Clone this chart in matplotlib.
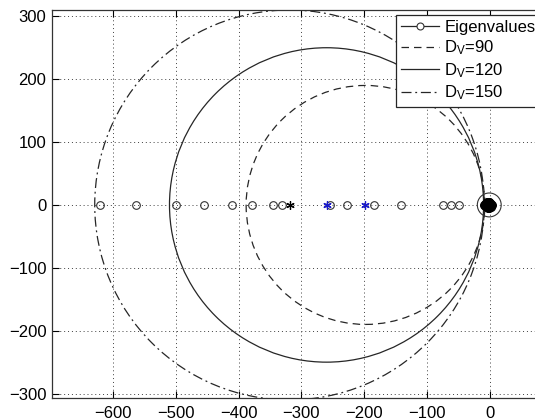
import numpy as np
import matplotlib
matplotlib.use("Agg")
import matplotlib.pyplot as plt
from matplotlib.patches import Circle
from matplotlib.lines import Line2D

plt.rcParams['font.family'] = ['Liberation Sans', 'DejaVu Sans']
plt.rcParams['mathtext.fontset'] = 'custom'
plt.rcParams['mathtext.rm'] = 'Liberation Sans'
plt.rcParams['mathtext.it'] = 'Liberation Sans'

eig_re = [-621, -563, -500, -455, -411, -379, -345, -331, -255, -227, -185, -142, -75, -62, -49]
eig_im = [0] * len(eig_re)
# dense cluster near the origin
cluster_re = [-10, -8, -7, -6, -5, -4, -4, -3, -3, -2, -2, -1, -1, 0, 1, 2, 3, -6, -2, 0]
cluster_im = [0, 2, -2, 3, -3, 4, -4, 5, -5, 5, -5, 4, -4, 3, -3, 2, 0, 0, 0, 0]
# marked points (asterisks)
black_star_re = [-318]
blue_star_re = [-259, -199]
# highlight circle around the origin cluster
highlight_center = (-1, 0)
highlight_radius = 19

# D_V circles: (label, center on real axis, radius, linestyle)
dv_labels = ['D$_\\mathrm{V}$=90', 'D$_\\mathrm{V}$=120', 'D$_\\mathrm{V}$=150']
dv_centers = [-198, -260, -319]
dv_radii = [190, 250, 310]
dv_styles = [(0, (6, 4)), '-', (0, (8, 3, 1.5, 3))]

fig = plt.figure(figsize=(5.35, 4.2), dpi=100)
ax = fig.add_axes([52 / 535, 22 / 420, 507 / 535, 388 / 420])

ax.set_xlim(-697, 110)
ax.set_ylim(-307, 310)
ax.set_xticks(np.arange(-600, 1, 100))
ax.set_yticks(np.arange(-300, 301, 100))
ax.grid(True, linestyle=(0, (1, 3)), color='0.25', linewidth=0.7)
ax.set_axisbelow(True)
ax.tick_params(direction='in', length=5, top=True, right=True, labelsize=12)
ax.tick_params(axis='x', pad=6)
ax.tick_params(axis='y', pad=4)
for s in ax.spines.values():
    s.set_linewidth(0.9)
    s.set_color('0.2')

line_col = '0.15'
for c, r, ls in zip(dv_centers, dv_radii, dv_styles):
    ax.add_patch(Circle((c, 0), r, fill=False, linestyle=ls, edgecolor=line_col, linewidth=0.9))

ax.plot(eig_re, eig_im, linestyle='none', marker='o', markersize=5.5,
        markerfacecolor='none', markeredgecolor='0.2', markeredgewidth=0.8)
ax.plot(cluster_re, cluster_im, linestyle='none', marker='o', markersize=5.5,
        markerfacecolor='black', markeredgecolor='black')
ax.add_patch(Circle(highlight_center, highlight_radius, fill=False, edgecolor='0.2', linewidth=0.8))
ax.plot(black_star_re, [0] * len(black_star_re), linestyle='none', marker=(6, 2, 0),
        markersize=6, color='black', markeredgewidth=0.9)
ax.plot(blue_star_re, [0] * len(blue_star_re), linestyle='none', marker=(6, 2, 0),
        markersize=6, color='#1a1acc', markeredgewidth=0.9)

handles = [Line2D([], [], color=line_col, linewidth=0.9, marker='o', markersize=5,
                  markerfacecolor='white', markeredgecolor='0.2', markeredgewidth=0.8)]
for ls in dv_styles:
    handles.append(Line2D([], [], color=line_col, linewidth=0.9, linestyle=ls))
leg = fig.legend(handles, ['Eigenvalues'] + dv_labels, loc='upper left',
                 bbox_to_anchor=(396 / 535, 1 - 15 / 420), fontsize=12,
                 fancybox=False, framealpha=1, edgecolor='0.15',
                 handlelength=2.3, handletextpad=0.3, labelspacing=0.22,
                 borderpad=0.3, borderaxespad=0)
leg.get_frame().set_linewidth(0.9)

fig.savefig('out.png', dpi=100)
